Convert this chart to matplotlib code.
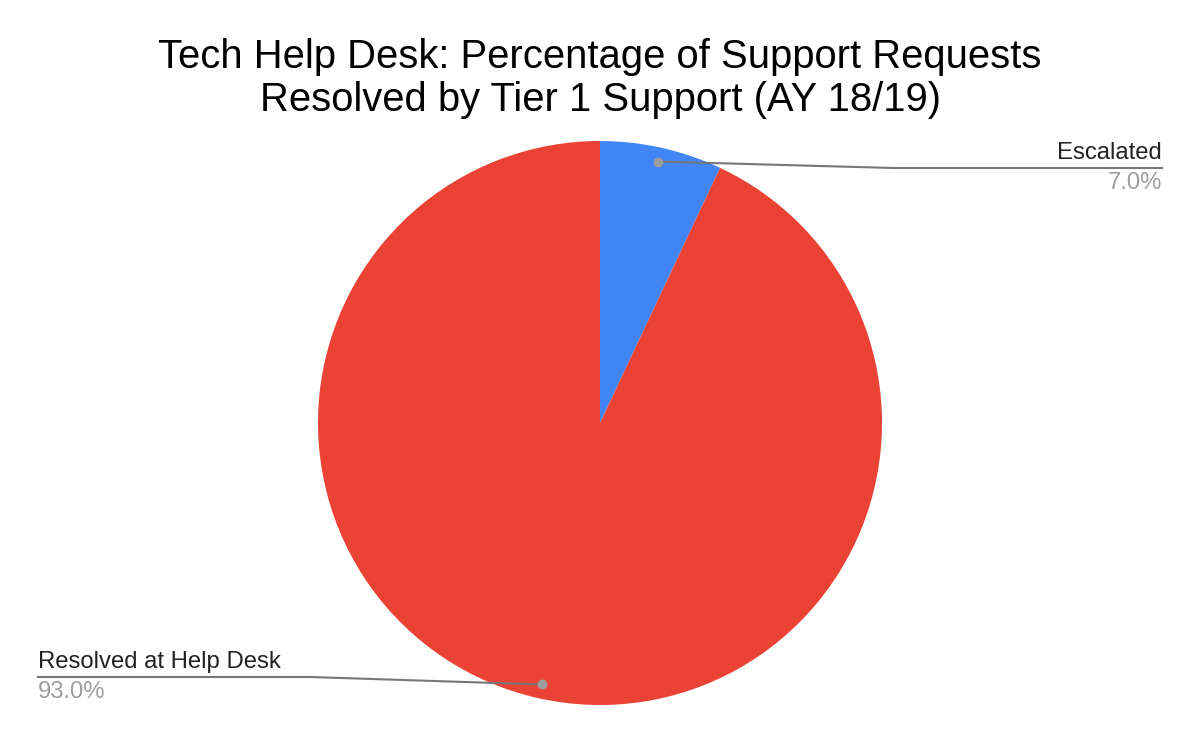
import numpy as np
import matplotlib
matplotlib.use("Agg")
import matplotlib.pyplot as plt

plt.rcParams['font.family'] = ['Liberation Sans', 'DejaVu Sans']

title_lines = ['Tech Help Desk: Percentage of Support Requests',
               'Resolved by Tier 1 Support (AY 18/19)']
labels = ['Escalated', 'Resolved at Help Desk']
values = [7.0, 93.0]
colors = ['#4285F4', '#EA4335']

W, H = 1200, 742
fig = plt.figure(figsize=(W / 100, H / 100), dpi=100)
ax = fig.add_axes([0, 0, 1, 1])

cx, cy, r = 600, H - 423, 282
wedges, _ = ax.pie(values, colors=colors, startangle=90, counterclock=False,
                   center=(cx, cy), radius=r, frame=True,
                   wedgeprops=dict(linewidth=0))
ax.set_xlim(0, W)
ax.set_ylim(0, H)
ax.set_aspect('equal')
ax.axis('off')

for line, ty in zip(title_lines, [57, 100]):
    fig.text(0.5, 1 - ty / H, line, ha='center', va='center', fontsize=28.8, color='#000000')

# leader lines: (elbow x, line y, text end x, alignment)
layout = [(893, H - 168, 1162, 'right'), (310, H - 677, 38, 'left')]
for w, lab, val, (ex, ly, tx, ha) in zip(wedges, labels, values, layout):
    ang = np.deg2rad((w.theta1 + w.theta2) / 2)
    px = cx + 0.95 * r * np.cos(ang)
    py = cy + 0.95 * r * np.sin(ang)
    ax.plot([px, ex, tx], [py, ly, ly], color='#777777', lw=1.5, zorder=3)
    ax.plot(px, py, 'o', color='#9e9e9e', ms=6, zorder=4)
    ax.text(tx, ly + 4, lab, ha=ha, va='bottom', fontsize=17.2, color='#222222')
    ax.text(tx, ly - 4, f'{val:.1f}%', ha=ha, va='top', fontsize=17.2, color='#9e9e9e')

fig.savefig('out.png', dpi=100, facecolor='white')
